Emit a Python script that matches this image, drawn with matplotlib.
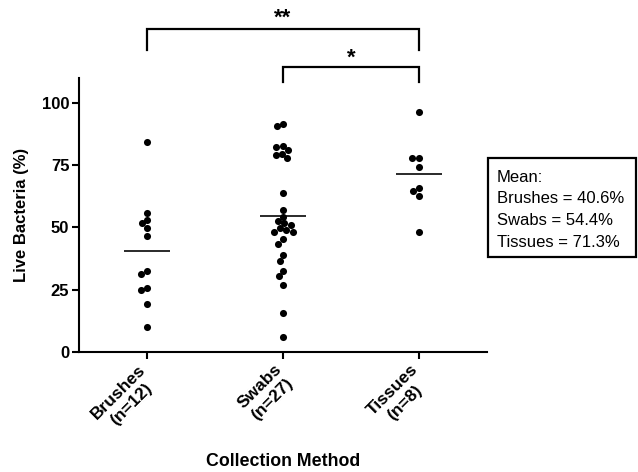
import numpy as np
import matplotlib
matplotlib.use('Agg')
import matplotlib.pyplot as plt
import matplotlib.transforms as mtransforms
from matplotlib.patches import Rectangle

plt.rcParams['font.family'] = ['Liberation Sans', 'DejaVu Sans']

categories = ['Brushes\n(n=12)', 'Swabs\n(n=27)', 'Tissues\n(n=8)']
brushes = [84.4, 55.9, 53.1, 51.6, 49.9, 46.6, 32.4, 31.3, 25.7, 25.0, 19.1, 10.2]
swabs = [91.4, 90.6, 82.7, 82.5, 80.9, 79.6, 79.0, 77.7, 64.0, 57.1, 54.2, 52.7,
         51.6, 51.1, 49.6, 48.8, 48.3, 48.1, 45.2, 43.4, 38.8, 36.4, 32.4, 30.4,
         26.7, 15.6, 6.0]
tissues = [96.5, 77.9, 77.9, 74.3, 66.0, 64.8, 62.6, 48.3]
means = [40.6, 54.4, 71.3]
mean_labels = ['Brushes', 'Swabs', 'Tissues']
# significance brackets: (group a, group b, label)
comparisons = [(0, 2, '**'), (1, 2, '*')]

W, H, DPI = 6.38, 4.72, 100
fig = plt.figure(figsize=(W, H), dpi=DPI)
ax = fig.add_axes([79 / 638, 1 - 352 / 472, (487 - 79) / 638, (352 - 78) / 472])
ax.set_xlim(-0.5, 2.5)
ax.set_ylim(0, 110)

# pixel scale, used to lay the dots out as a swarm
px_x = (487 - 79) / 3.0
px_y = (352 - 78) / 110.0
dot_d = 6.6


def swarm(vals):
    placed = []
    offs = []
    for v in vals:
        y = v * px_y
        near = [(px, py) for px, py in placed if abs(py - y) < dot_d]
        cands = [0.0]
        for px, py in near:
            dx = np.sqrt(dot_d ** 2 - (py - y) ** 2)
            cands += [px + dx, px - dx]
        cands.sort(key=lambda c: (abs(c), c))
        for c in cands:
            if all((c - px) ** 2 + (y - py) ** 2 >= dot_d ** 2 - 1e-6 for px, py in near):
                break
        placed.append((c, y))
        offs.append(c / px_x)
    return np.array(offs)


for i, vals in enumerate([brushes, swabs, tissues]):
    xs = i + swarm(vals)
    ax.scatter(xs, vals, s=26, color='black', zorder=3, linewidths=0)
    ax.hlines(means[i], i - 0.17, i + 0.17, color='#2a2a2a', lw=1.4, zorder=2)

ax.spines['top'].set_visible(False)
ax.spines['right'].set_visible(False)
for s in ['left', 'bottom']:
    ax.spines[s].set_linewidth(1.5)
ax.tick_params(width=1.5, length=5, labelsize=12, pad=2)
ax.set_yticks([0, 25, 50, 75, 100])
ax.set_xticks(range(3))
ax.set_xticklabels(categories, rotation=45, ha='right', va='top',
                   rotation_mode='anchor', multialignment='center',
                   fontsize=12.5, fontweight='bold')
shift = mtransforms.ScaledTranslation(-0.09, 0, fig.dpi_scale_trans)
for lab in ax.get_xticklabels():
    lab.set_transform(lab.get_transform() + shift)
for lab in ax.get_yticklabels():
    lab.set_fontweight('bold')
ax.set_ylabel('Live Bacteria (%)', fontsize=12, fontweight='bold', labelpad=9)
ax.set_xlabel('Collection Method', fontsize=12.8, fontweight='bold', labelpad=14)

# brackets
levels = [(129.6, 121.1, 133.8), (114.6, 108.5, 117.8)]
for (a, b, lab), (top, leg, ty) in zip(comparisons, levels):
    ax.plot([a, a, b, b], [leg, top, top, leg], color='black', lw=1.6,
            clip_on=False, solid_joinstyle='miter')
    ax.text((a + b) / 2, ty, lab, ha='center', va='center', fontsize=16,
            fontweight='bold', clip_on=False)

# mean box
fig.patches.append(Rectangle((488 / 638, 1 - 257 / 472), (636 - 488) / 638,
                             (257 - 158) / 472, transform=fig.transFigure,
                             fill=False, ec='black', lw=1.6))
lines = ['Mean:'] + [f'{n} = {m}%' for n, m in zip(mean_labels, means)]
for k, t in enumerate(lines):
    fig.text(497 / 638, 1 - (181.7 + 21.7 * k) / 472, t, ha='left',
             va='baseline', fontsize=12)

fig.savefig('out.png', dpi=DPI)
